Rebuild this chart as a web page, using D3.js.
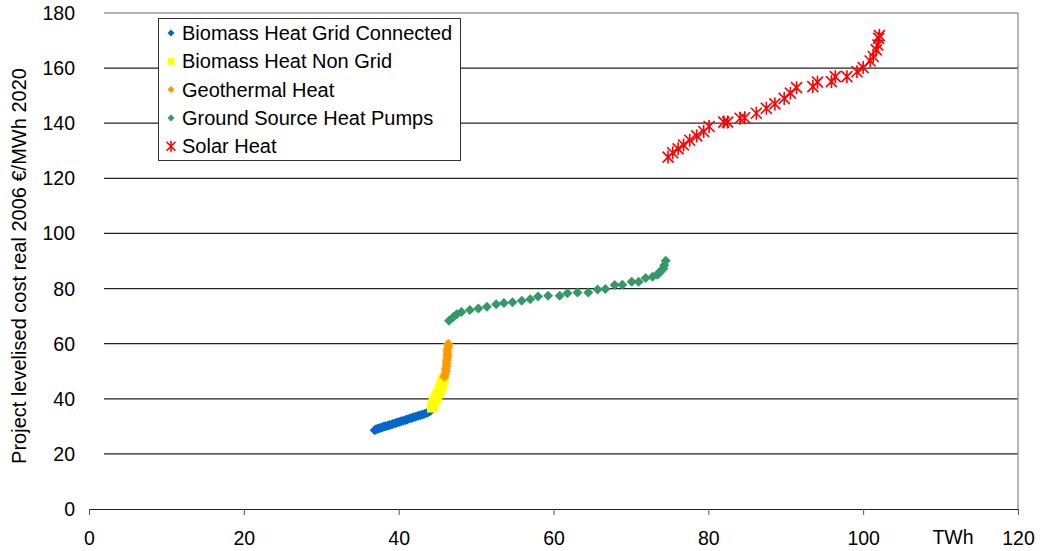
<!DOCTYPE html>
<html>
<head>
<meta charset="utf-8">
<script src="https://cdn.jsdelivr.net/npm/d3@7"></script>
<style>
  body { margin: 0; background: #fff; }
  text { font-family: "Liberation Sans", Arial, sans-serif; }
</style>
</head>
<body>
<svg id="chart" width="1040" height="551"></svg>
<script>
// series, [TWh, cost]
var biomassGrid = [[36.9,28.6],[37.1,28.9],[37.3,29.1],[37.5,29.3],[37.7,29.5],[37.9,29.7],[38.1,29.9],[38.3,30.0],[38.6,30.2],[38.8,30.5],[39.1,30.7],[39.3,30.9],[39.6,31.1],[39.8,31.4],[40.1,31.6],[40.3,31.8],[40.6,32.0],[40.9,32.3],[41.1,32.5],[41.4,32.8],[41.7,33.0],[41.9,33.3],[42.2,33.5],[42.5,33.8],[42.8,34.0],[43.1,34.3],[43.4,34.6],[43.7,34.9],[43.9,35.3],[44.1,35.7],[44.2,36.0]];
var biomassNonGrid = [[44.3,36.8],[44.4,37.6],[44.5,38.4],[44.6,39.2],[44.8,40.0],[44.9,40.8],[45.0,41.6],[45.2,42.4],[45.3,43.2],[45.4,44.0],[45.5,44.8],[45.6,45.6],[45.7,46.4],[45.8,47.2]];
var geothermal = [[45.9,48.0],[46.0,49.0],[46.1,50.0],[46.1,51.0],[46.2,52.0],[46.2,53.0],[46.2,54.0],[46.3,55.0],[46.3,56.0],[46.3,57.0],[46.3,58.0],[46.4,59.0],[46.4,60.0]];
var groundSource = [[46.5,68.3],[47.1,69.8],[47.5,70.7],[48.1,71.5],[49.2,72.2],[50.3,72.8],[51.4,73.4],[52.6,74.3],[53.6,74.8],[54.7,75.0],[55.9,75.6],[57.0,76.1],[58.0,77.1],[59.3,77.4],[60.8,77.4],[61.8,78.3],[63.1,78.6],[64.5,78.6],[65.7,79.7],[66.7,79.8],[67.9,81.3],[68.9,81.4],[70.1,82.5],[71.0,82.5],[71.9,83.8],[72.8,84.3],[73.4,85.0],[73.6,85.6],[73.8,86.1],[74.0,86.7],[74.2,87.3],[74.3,88.5],[74.5,90.1]];
var solarHeat = [[74.8,127.7],[75.4,129.3],[76.1,130.7],[76.8,132.1],[77.6,133.8],[78.5,135.4],[79.4,137.0],[80.1,138.8],[82.0,140.4],[82.5,140.4],[84.1,141.8],[84.7,142.0],[86.2,143.6],[87.5,145.4],[88.6,147.0],[89.8,149.0],[90.6,150.9],[91.4,152.9],[93.5,153.3],[94.1,154.9],[95.9,155.1],[96.4,156.9],[97.9,156.9],[99.2,158.7],[100.0,160.2],[100.9,162.6],[101.3,164.2],[101.7,166.6],[101.9,168.4],[102.0,170.8],[102.1,171.8]];

var seriesNames = ["Biomass Heat Grid Connected", "Biomass Heat Non Grid", "Geothermal Heat", "Ground Source Heat Pumps", "Solar Heat"];
var seriesColors = ["#0066cc", "#ffff00", "#ff9900", "#339966", "#ff0000"];
var seriesShapes = ["diamond", "square", "diamond", "diamond", "star"];
var allSeries = [biomassGrid, biomassNonGrid, geothermal, groundSource, solarHeat];

var xTicks = [0, 20, 40, 60, 80, 100, 120];
var yTicks = [0, 20, 40, 60, 80, 100, 120, 140, 160, 180];

var svg = d3.select("#chart");

var x = d3.scaleLinear().domain([0, 120]).range([89, 1018]);
var y = d3.scaleLinear().domain([0, 180]).range([509, 13]);

// gridlines
svg.append("g").selectAll("line")
  .data(yTicks.filter(function(d) { return d > 0 && d < 180; }))
  .enter().append("line")
  .attr("x1", 104).attr("x2", x(120))
  .attr("y1", function(d) { return y(d); })
  .attr("y2", function(d) { return y(d); })
  .attr("stroke", "#222").attr("stroke-width", 1.2);

// top + right frame
svg.append("line").attr("x1", 104).attr("x2", x(120)).attr("y1", y(180)).attr("y2", y(180))
  .attr("stroke", "#999").attr("stroke-width", 1.5);
svg.append("line").attr("x1", x(120)).attr("x2", x(120)).attr("y1", y(180)).attr("y2", y(0))
  .attr("stroke", "#888").attr("stroke-width", 1.2);

// x axis
var xAxis = d3.axisBottom(x).tickValues(xTicks).tickSize(6).tickSizeOuter(0).tickPadding(16);
var gx = svg.append("g").attr("transform", "translate(0," + y(0) + ")").call(xAxis);
gx.select(".domain").attr("stroke", "#222").attr("stroke-width", 1.2);
gx.selectAll(".tick line").attr("stroke", "#555");
gx.selectAll("text").attr("font-size", 19.5).attr("fill", "#000")
  .style("font-family", "Liberation Sans, Arial, sans-serif");

svg.append("text").attr("x", 953).attr("y", 544).attr("text-anchor", "middle")
  .attr("font-size", 19.5).text("TWh");

// y tick labels
svg.append("g").selectAll("text")
  .data(yTicks).enter().append("text")
  .attr("x", 75).attr("y", function(d) { return y(d) + 7; })
  .attr("text-anchor", "end").attr("font-size", 19.5)
  .text(function(d) { return d; });

svg.append("text")
  .attr("transform", "translate(26,266) rotate(-90)")
  .attr("text-anchor", "middle").attr("font-size", 20)
  .text("Project levelised cost real 2006 €/MWh 2020");

function marker(shape, size) {
  var h = size / 2;
  if (shape == "diamond") return "M0," + (-h) + "L" + h + ",0L0," + h + "L" + (-h) + ",0Z";
  if (shape == "square") return "M" + (-h) + "," + (-h) + "h" + size + "v" + size + "h" + (-size) + "Z";
  // asterisk: X plus vertical stroke
  return "M" + (-h) + "," + (-h) + "L" + h + "," + h + "M" + h + "," + (-h) + "L" + (-h) + "," + h + "M0," + (-h - 1) + "L0," + (h + 1);
}

function drawMark(sel, i, size) {
  var p = sel.append("path").attr("d", marker(seriesShapes[i], size));
  if (seriesShapes[i] == "star") p.attr("fill", "none").attr("stroke", seriesColors[i]).attr("stroke-width", 1.6);
  else p.attr("fill", seriesColors[i]);
}

// points
allSeries.forEach(function(data, i) {
  var g = svg.append("g");
  data.forEach(function(d) {
    var m = g.append("g").attr("transform", "translate(" + x(d[0]) + "," + y(d[1]) + ")");
    drawMark(m, i, seriesShapes[i] == "star" ? 11 : 10);
  });
});

// legend
var legend = svg.append("g");
legend.append("rect").attr("x", 158.5).attr("y", 18.5).attr("width", 302).attr("height", 142)
  .attr("fill", "#fff").attr("stroke", "#333").attr("stroke-width", 1);
seriesNames.forEach(function(name, i) {
  var cy = 33 + i * 28.3;
  var m = legend.append("g").attr("transform", "translate(171," + cy + ")");
  drawMark(m, i, seriesShapes[i] == "star" ? 9 : 7);
  legend.append("text").attr("x", 182).attr("y", cy + 7).attr("font-size", 20).text(name);
});
</script>
</body>
</html>
